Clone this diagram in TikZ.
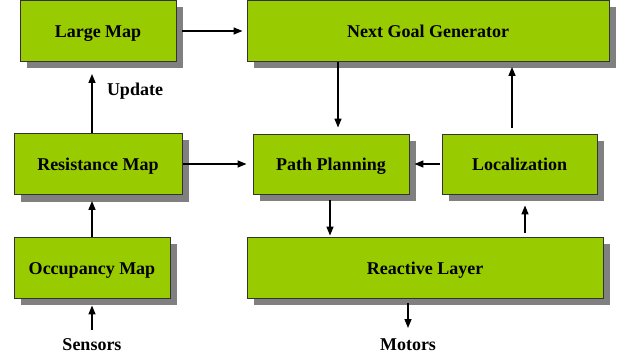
\documentclass[tikz,border=0pt]{standalone}
\usepackage{fontspec}
\setmainfont{Liberation Serif}
\usetikzlibrary{positioning, shadows, arrows.meta, calc}

\definecolor{boxgreen}{RGB}{153,204,0}

\begin{document}
\begin{tikzpicture}[
  x=1pt, y=-1pt,
  font=\fontsize{18}{20}\selectfont\bfseries,
  module/.style={
    draw=black!80, line width=0.9pt, fill=boxgreen,
    minimum height=61pt, inner sep=0pt, align=center,
    text height=14pt, text depth=0pt,
    drop shadow={shadow xshift=7pt, shadow yshift=-7pt, fill=black!50, opacity=1}
  },
  signal/.style={inner sep=1pt, anchor=base},
  arrow/.style={-{Triangle[length=9pt,width=7pt]}, line width=1.4pt},
]
\useasboundingbox (0,0) rectangle (623,358);

% Map chain on the left
\node[module, minimum width=156pt] (large) at (98,31) {Large Map};
\node[module, minimum width=168pt] (resist) at (98,164) {Resistance Map};
\node[module, minimum width=156pt] (occup) at (92,267.5) {Occupancy Map};

% Planning and control on the right
\node[module, minimum width=362pt] (goal) at (428,31) {Next Goal Generator};
\node[module, minimum width=156pt, minimum height=60pt] (path) at (331,164) {Path Planning};
\node[module, minimum width=155pt, minimum height=60pt] (local) at (519.5,164) {Localization};
\node[module, minimum width=356pt] (react) at (425,267.5) {Reactive Layer};

% Inputs, outputs and labels
\node[signal] (update) at (135,96) {Update};
\node[signal] (sensors) at (92,350) {Sensors};
\node[signal] (motors) at (408,350) {Motors};

% Connections
\draw[arrow, shorten <=6pt, shorten >=4pt] (large.east) -- (goal.west |- large.east);
\draw[arrow, shorten >=6pt] ([xshift=7pt]path.north |- goal.south) -- ([xshift=7pt]path.north);
\draw[arrow, shorten <=6pt, shorten >=5pt] ([xshift=-7.5pt]local.north) -- ([xshift=-7.5pt]local.north |- goal.south);
\draw[arrow, shorten >=12pt] (resist.north -| occup) -- (large.south -| occup);
\draw[arrow, shorten <=1pt, shorten >=6pt] (resist.east) -- (path.west);
\draw[arrow, shorten <=2pt, shorten >=5pt] (local.west) -- (path.east);
\draw[arrow, shorten >=6pt] (occup.north) -- (resist.south -| occup);
\draw[arrow, shorten <=6pt, shorten >=1pt] ([xshift=-1pt]path.south) -- ([xshift=-1pt]path.south |- react.north);
\draw[arrow, shorten <=4pt, shorten >=11pt] ([xshift=5.5pt]local.south |- react.north) -- ([xshift=5.5pt]local.south);
\draw[arrow, shorten <=7pt, shorten >=7pt] (sensors.north) -- (occup.south);
\draw[arrow, shorten <=5pt, shorten >=9pt] (react.south -| motors) -- (motors.north);

\end{tikzpicture}
\end{document}
